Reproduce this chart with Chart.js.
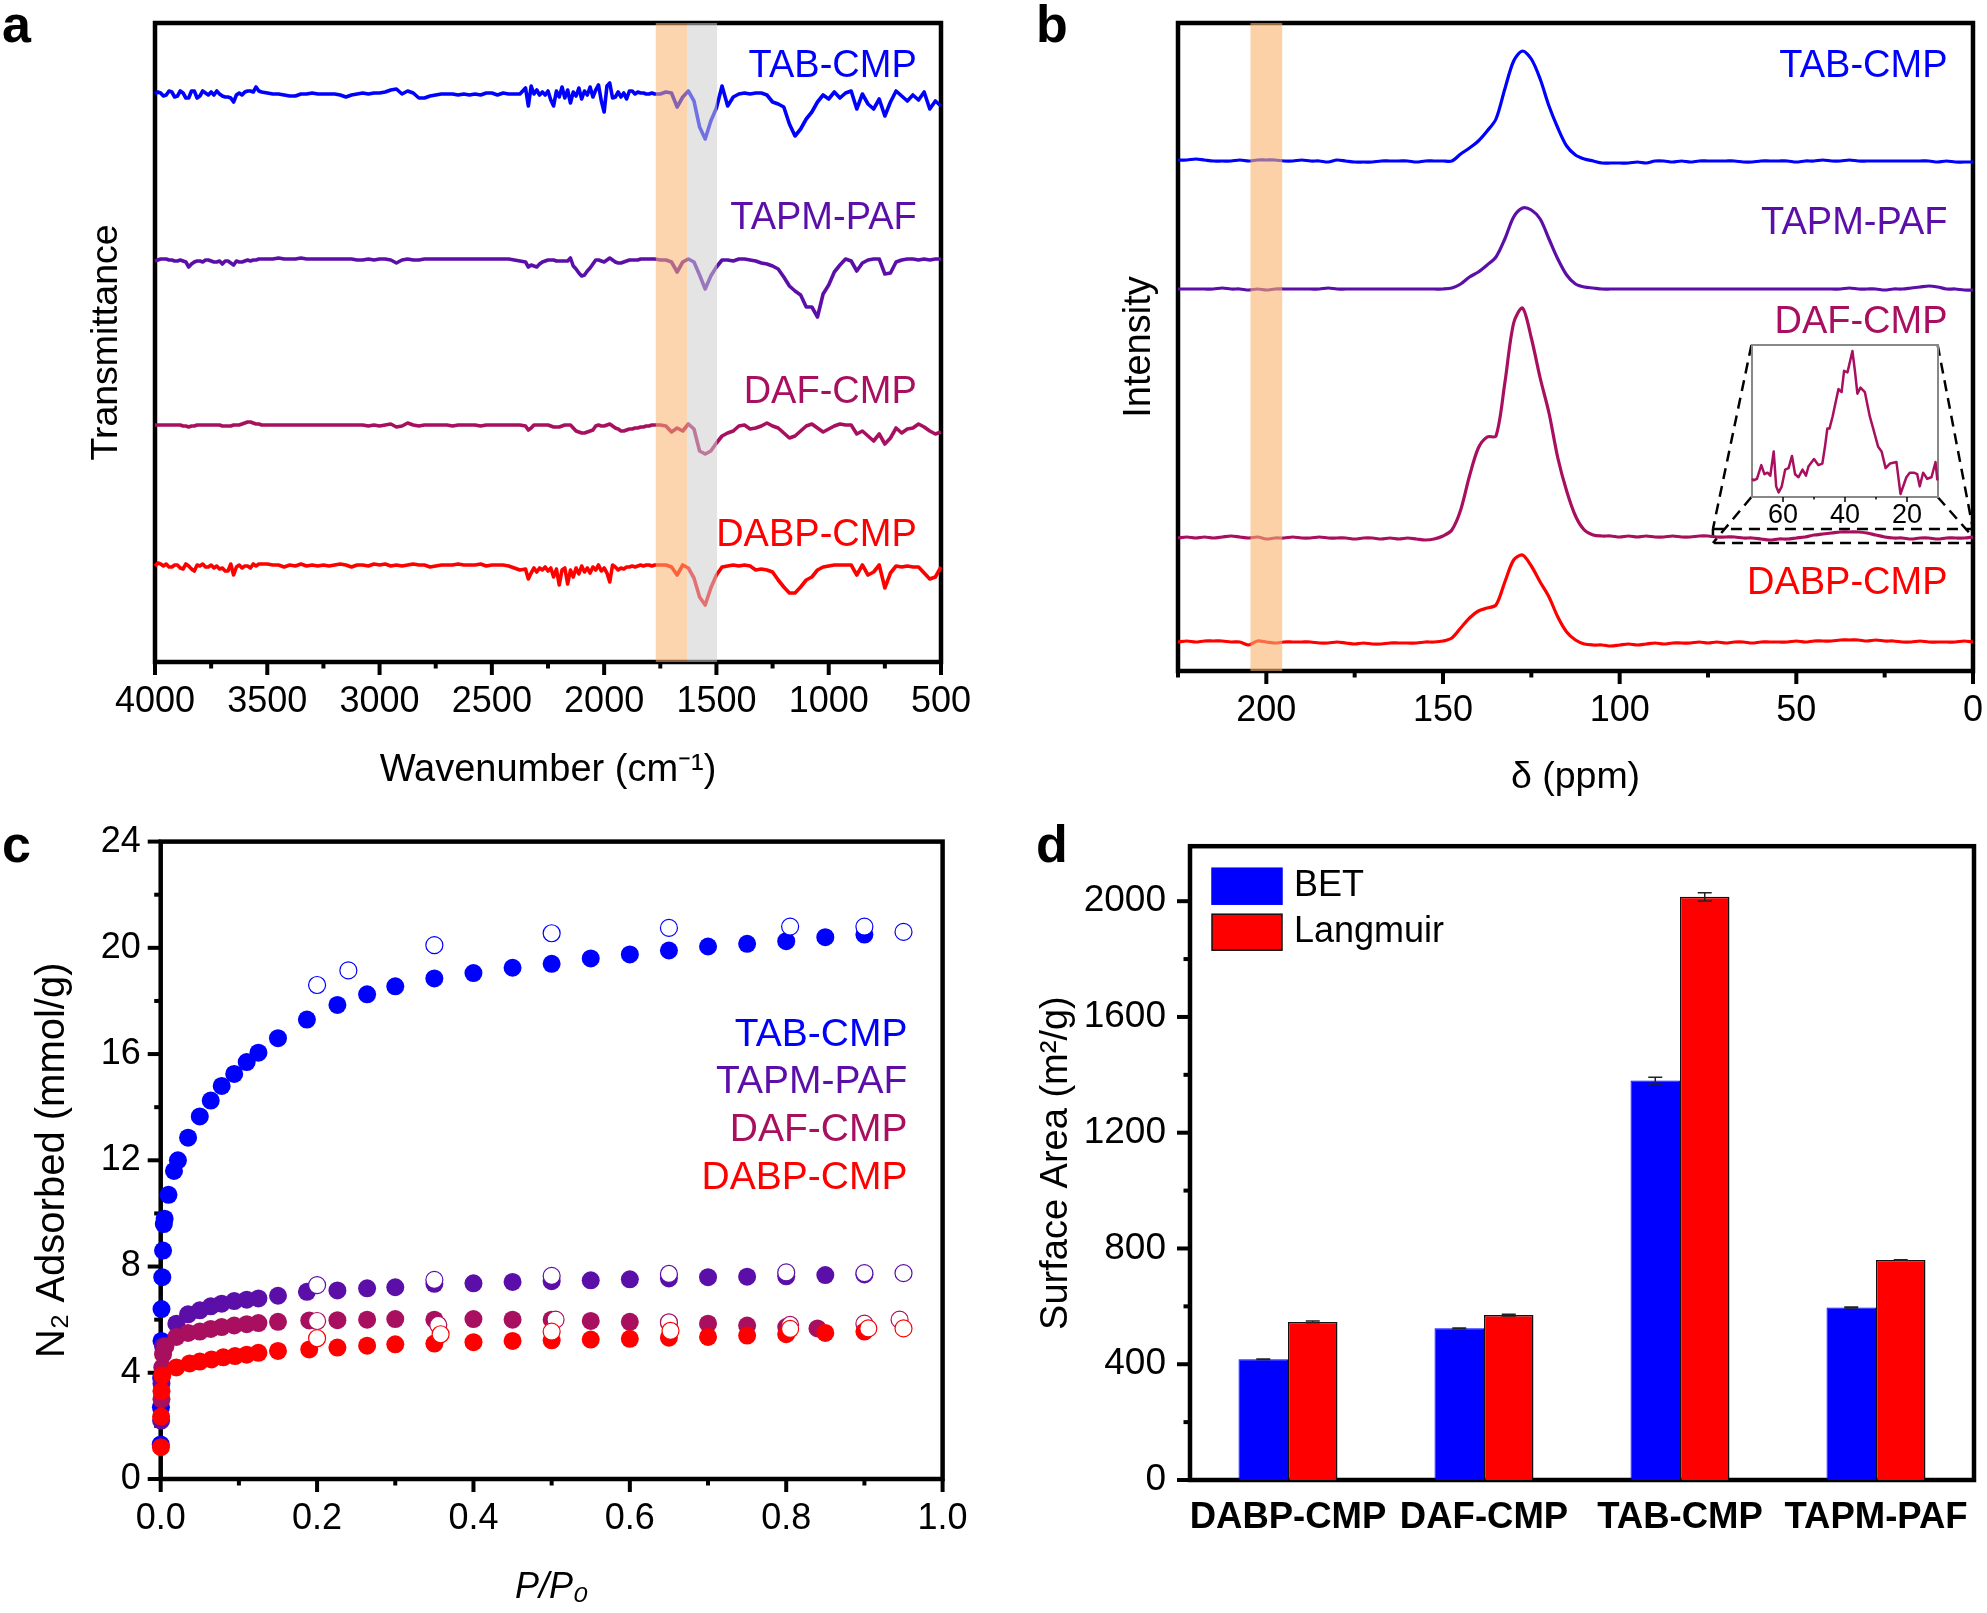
<!DOCTYPE html>
<html>
<head>
<meta charset="utf-8">
<title>CMP characterisation</title>
<script src="https://cdn.jsdelivr.net/npm/chart.js@4"></script>
<style>
    html, body { margin: 0; padding: 0; background: #fff; }
    #page { position: relative; width: 1987px; height: 1613px; overflow: hidden; }
    #page canvas { position: absolute; }
    .letter { position: absolute; font: bold 52px "Liberation Sans", sans-serif; color: #000; line-height: 52px; }
</style>
</head>
<body>
<div id="page">
    <canvas id="irChart" width="1000" height="800" style="left:0;top:0"></canvas>
    <canvas id="nmrChart" width="1001" height="800" style="left:1000px;top:0"></canvas>
    <canvas id="insetChart" width="240" height="210" style="left:1722px;top:335px"></canvas>
    <canvas id="isothermChart" width="1000" height="813" style="left:0;top:800px"></canvas>
    <canvas id="areaChart" width="987" height="813" style="left:1000px;top:800px"></canvas>
    <div class="letter" style="left:2px;top:-2px">a</div>
    <div class="letter" style="left:1036px;top:-2px">b</div>
    <div class="letter" style="left:2px;top:818px">c</div>
    <div class="letter" style="left:1036px;top:818px">d</div>
</div>
<script>
const BLUE = '#0000ff';
const PURPLE = '#5b0fa8';
const MAROON = '#a8105f';
const RED = '#ff0000';
const FONT = '"Liberation Sans", Arial, sans-serif';

const sampleNames = ['TAB-CMP', 'TAPM-PAF', 'DAF-CMP', 'DABP-CMP'];
const sampleColors = [BLUE, PURPLE, MAROON, RED];

// Panel a: FTIR, each trace is the deviation from its own baseline
const irWavenumbers = [
    4000, 3987.5, 3975, 3962.5, 3950, 3937.5, 3925, 3912.5, 3900, 3887.5,
    3875, 3862.5, 3850, 3837.5, 3825, 3812.5, 3800, 3787.5, 3775, 3762.5,
    3750, 3737.5, 3725, 3712.5, 3700, 3687.5, 3675, 3662.5, 3650, 3637.5,
    3625, 3612.5, 3600, 3587.5, 3575, 3562.5, 3550, 3537.5, 3525,
    3500, 3475, 3450, 3425, 3400, 3375, 3350, 3325, 3300, 3275,
    3250, 3225, 3200, 3175, 3150, 3125, 3100, 3075, 3050, 3025,
    3000, 2975, 2950, 2925, 2900, 2875, 2850, 2825, 2800, 2775,
    2750, 2725, 2700, 2675, 2650, 2625, 2600, 2575, 2550, 2525,
    2500, 2475, 2450, 2425, 2400, 2375,
    2350, 2337.5, 2325, 2312.5, 2300, 2287.5, 2275, 2262.5, 2250, 2237.5,
    2225, 2212.5, 2200, 2187.5, 2175, 2162.5, 2150, 2137.5, 2125, 2112.5,
    2100, 2087.5, 2075, 2062.5, 2050, 2037.5, 2025, 2012.5, 2000, 1987.5,
    1975, 1962.5, 1950, 1937.5, 1925, 1912.5, 1900, 1887.5, 1875, 1862.5,
    1850, 1837.5, 1825, 1812.5, 1800, 1787.5, 1775,
    1750, 1725, 1700, 1675, 1650, 1625, 1600, 1575, 1550, 1525,
    1500, 1475, 1450, 1425, 1400, 1375, 1350, 1325, 1300, 1275,
    1250, 1225, 1200, 1175, 1150, 1125, 1100, 1075, 1050, 1025,
    1000, 975, 950, 925, 900, 875, 850, 825, 800, 775,
    750, 725, 700, 675, 650, 625, 600, 575, 550, 525,
    500
];
const irTab = [
    0, 2, 1, -2, -1, 3, 2, -3, -2, 3,
    1, -4, -4, 3, 3, -4, -2, 3, 1, -1,
    2, -1, 3, 0, -2, -3, -3, -4, -8, -1,
    1, -1, 2, 3, 3, 2, 7, 3, 2,
    1, 0, 0, -1, -2, -2, 0, 0, 1, 0,
    0, 0, 0, -1, -3, -1, 0, 1, 0, 1,
    1, 2, 4, 5, 0, 3, 1, -4, -4, -2,
    -1, 0, 0, 0, -1, 0, -1, 0, -1, 1,
    1, -1, 1, 0, 0, 0,
    6, -12, 8, 0, 4, -1, 2, -1, 3, -6,
    -12, 3, -3, 7, -4, 4, -9, 2, -2, 6,
    -5, 3, -1, 7, -3, 4, 9, -7, -18, 8,
    11, -4, -3, 2, -3, 1, -5, 3, 3, 0,
    2, 1, 1, 0, 0, 1, 0,
    0, 2, 1, -13, -3, 3, -7, -33, -45, -27,
    -14, 8, -12, -3, 0, 1, 0, 1, 1, -1,
    -8, -10, -13, -30, -42, -35, -25, -18, -8, -1,
    -5, 2, -4, 1, 3, -15, 0, -10, -15, -5,
    -22, -8, 3, -2, -7, -1, -6, 2, -15, -7,
    -12
];
const irTapm = [
    -2, -1, 0, 0, 0, -1, -1, -2, -2, -1,
    -2, -3, -8, -5, -3, -2, -2, -3, -1, -1,
    -2, -3, -3, -2, -5, -2, -2, -4, -6, -2,
    -3, -3, -2, -1, -2, -1, -1, 0, 0,
    0, 0, 1, 0, 0, 0, 1, 0, 0, 0,
    0, 0, 0, 0, 0, 0, -1, -1, 0, -1,
    0, 0, -1, -4, -1, 0, -1, -1, 0, 0,
    0, 0, 0, 0, 0, 0, 0, 0, 0, 0,
    0, 0, 0, 0, -1, -2,
    -3, -8, -6, -7, -8, -5, -3, -2, -1, -1,
    -1, -2, -2, -2, -2, -2, 1, -7, -10, -14,
    -17, -16, -12, -9, -5, -1, -1, -2, -3, -1,
    1, -1, -3, -4, -4, -3, -2, -1, -1, -1,
    -1, 0, 0, 0, 0, 0, 0,
    -1, -1, -3, -13, -3, 0, -3, -16, -30, -17,
    -8, -1, -1, -2, 0, 0, -1, -2, -4, -5,
    -7, -10, -18, -27, -32, -36, -48, -48, -58, -35,
    -26, -13, -6, 0, -2, -12, -4, -1, 0, 0,
    -15, -14, -3, -1, 0, 0, -1, 0, -1, 0,
    0
];
const irDaf = [
    0, 0, 0, 0, 0, 0, 0, 0, 0, 0,
    -1, -1, -2, -1, -1, 0, 0, 0, 0, 0,
    0, 0, 0, 0, -1, -1, -1, -1, 0, 0,
    0, 1, 2, 3, 3, 2, 1, 1, 0,
    0, 0, 0, 0, 0, 0, 0, 0, 0, 0,
    0, 0, 0, 0, 0, 0, 0, 0, -1, 0,
    -1, 0, 1, -2, -1, 2, 0, -1, 0, 0,
    0, 0, 0, -1, 0, 0, 0, 0, -1, 0,
    0, 0, 0, 0, 0, 0,
    -1, -5, -3, 0, 0, 0, 0, 0, 0, -1,
    -2, -2, -2, -1, 0, 0, 0, -3, -6, -7,
    -8, -8, -7, -6, -5, -1, 0, -1, -1, 0,
    1, -1, -3, -4, -6, -6, -5, -4, -4, -3,
    -3, -2, -2, -1, -1, 0, 0,
    0, -1, -7, -3, -6, 1, -4, -26, -29, -26,
    -18, -11, -8, -6, -1, 0, -4, -3, -1, 2,
    -1, -3, -8, -13, -11, -6, -1, 1, -3, -7,
    -4, -1, 1, 0, 0, -9, -6, -11, -16, -9,
    -19, -13, -3, -8, -4, -3, 1, -2, -6, -9,
    -7
];
const irDabp = [
    -1, 2, 1, -1, 1, -2, -2, 0, 0, -3,
    -4, 1, -1, -4, -6, 0, -1, 1, -2, -2,
    0, -3, -1, -4, -3, -6, -6, 1, -10, -2,
    0, -3, -1, -1, -3, 1, -1, 1, 1,
    1, 0, 0, -2, 0, -1, 1, -1, 0, -1,
    0, -1, 0, 1, 0, -2, 0, 0, -1, 1,
    0, 1, -1, 0, -1, 0, 1, 0, 0, -2,
    -1, 0, 0, 0, 1, 0, 0, 0, 1, -1,
    0, 0, 0, -1, -3, -5,
    -4, -14, -8, -3, -7, -3, -5, -2, -6, -3,
    -12, -4, -20, -5, -3, -19, -5, -12, -3, -9,
    -1, -7, -3, -8, -2, -5, 0, -6, -3, -8,
    -17, 0, -2, -5, -3, -4, -2, -2, -1, -2,
    -1, 0, -1, 0, 0, -1, 0,
    0, 0, -2, -10, 0, -3, -13, -32, -40, -23,
    -10, -2, -1, 0, -1, 0, -1, -5, -4, -5,
    -7, -15, -22, -28, -28, -22, -15, -12, -5, -2,
    -1, 0, 0, 0, 0, -10, 0, -10, -7, 0,
    -23, -8, -1, -2, -1, -2, -2, -8, -14, -12,
    -2
];
const irBaselines = [568, 403, 237, 97];
const irLabelHeights = [595, 443, 269, 126];
const irBands = [[1770, 1631, 'rgba(250,178,110,0.55)'], [1631, 1497, 'rgba(205,205,205,0.55)']];

// Panel b: solid state NMR
const nmrShifts = [
    225, 222.5, 220, 217.5, 215, 212.5, 210, 207.5, 205, 202.5,
    200, 197.5, 195, 192.5, 190, 187.5, 185, 182.5, 180, 177.5,
    175, 172.5, 170, 167.5, 165, 162.5, 160, 157.5, 155, 152.5,
    150, 147.5, 145, 142.5, 140, 137.5, 135, 132.5, 130, 127.5,
    125, 122.5, 120, 117.5, 115, 112.5, 110, 107.5, 105, 102.5,
    100, 97.5, 95, 92.5, 90, 87.5, 85, 82.5, 80, 77.5,
    75, 72.5, 70, 67.5, 65, 62.5, 60, 57.5, 55, 52.5,
    50, 47.5, 45, 42.5, 40, 37.5, 35, 32.5, 30, 27.5,
    25, 22.5, 20, 17.5, 15, 12.5, 10, 7.5, 5, 2.5,
    0
];
const nmrTab = [
    1, 1, 2, 1, 0, 0, 0, 1, 0, 1,
    1, 1, 0, 0, 1, 0, 0, -1, 1, 0,
    -1, -1, -1, 0, 0, 0, 0, -1, 0, 0,
    0, 0, 7, 13, 20, 30, 42, 72, 100, 110,
    102, 82, 55, 33, 15, 6, 2, 0, -2, -2,
    -2, -2, -1, -2, 0, 0, -1, 0, -1, 0,
    0, 0, 0, 0, -1, -1, 0, 0, 0, 0,
    -1, 0, 0, 1, 0, 0, 1, 0, 0, 0,
    0, 0, 0, 0, 0, 0, -1, 0, -1, -1,
    -1
];
const nmrTapm = [
    0, 0, 0, 0, 0, 1, 0, 0, -1, 0,
    -1, 0, 0, 0, 0, 0, 0, 1, 0, 0,
    0, 0, 0, 0, 0, 0, 0, 0, 0, 0,
    0, 1, 5, 12, 17, 24, 32, 50, 72, 81,
    79, 70, 50, 30, 14, 5, 2, 1, 0, 0,
    0, 0, 0, 0, 0, 0, 0, 0, 0, 0,
    0, 0, 0, 0, 0, 0, 0, 0, 0, 0,
    0, 0, 0, 0, 0, 0, 1, 0, 0, 0,
    -1, 0, 0, 1, 2, 3, 2, 0, 0, -1,
    -1
];
const nmrDaf = [
    0, 1, 0, 1, 0, 1, 2, 1, 0, 1,
    -1, 0, 0, 1, 0, 0, 1, 0, 0, 0,
    -1, 0, 0, -1, 0, -1, 0, -1, -2, -1,
    2, 8, 28, 62, 90, 101, 102, 155, 215, 230,
    200, 160, 125, 80, 47, 22, 8, 3, 2, 2,
    1, 2, 1, 2, 1, 1, 2, 1, 1, 2,
    2, 1, 1, 1, 0, 0, -1, -2, -1, -1,
    0, 1, 3, 4, 5, 6, 6, 6, 5, 3,
    1, 0, 0, -1, 0, 0, -1, 0, 0, 0,
    1
];
const nmrDabp = [
    0, 1, 0, 1, 1, 1, 0, 0, -3, 1,
    0, -1, 0, 0, 0, 0, -1, -1, 0, -1,
    -2, -1, -2, -2, -1, -1, -1, -1, 0, 0,
    1, 4, 14, 24, 31, 34, 37, 60, 82, 87,
    76, 60, 45, 25, 10, 2, -2, -3, -3, -4,
    -3, -2, -3, -2, -1, -2, -1, -1, -1, 0,
    -1, 0, -1, 0, 0, -1, 0, 0, 0, 0,
    1, 0, 1, 1, 1, 2, 2, 2, 1, 2,
    1, 1, 0, 0, 1, 0, 0, 0, 0, 1,
    0
];
const nmrBaselines = [510, 382, 133, 29];
const nmrLabelHeights = [604, 447, 348, 87];
const nmrBands = [[204.5, 195.5, 'rgba(250,178,110,0.6)']];

// zoom guide for the inset, in the axis units of panel b
const guideBoxX = [73.6, 0, 0, 73.6, 73.6];
const guideBoxY = [142, 142, 128, 128, 142];
const guideLines = [
    [[62.7, 326], [73.6, 142]],
    [[10, 326], [0, 142]],
    [[62.7, 174], [73.6, 128]],
    [[10, 174], [0, 134]]
];

// Inset of panel b: DAF-CMP between 70 and 10 ppm
const insetShifts = [
    70, 69.5, 68.4, 67, 66, 65, 64.1, 63, 62.2, 61.4,
    60.4, 59.3, 58.2, 57.1, 56.1, 55, 53.7, 52.6, 51.8, 50,
    48.6, 47.3, 46.4, 45.7, 45, 44, 42.1, 41.1, 40.3, 39.2,
    37.6, 36.8, 36, 35, 33.6, 32, 30.9, 29.3, 28.2, 26.9,
    25.5, 23.4, 22.1, 20.2, 19.1, 17.8, 16.7, 15.9, 14.8, 13.5,
    12.1, 10.8, 10.2
];
const insetDaf = [
    12, 11, 12, 21, 15, 16, 14, 30, 7, 3,
    7, 18, 19, 27, 15, 13, 18, 14, 20, 25,
    21, 22, 34, 45, 45, 53, 71, 69, 83, 82,
    96, 83, 68, 72, 69, 53, 45, 33, 30, 19,
    22, 23, 2, 13, 16, 16, 15, 7, 16, 12,
    13, 23, 11
];

// Panel c: N2 isotherms, adsorption and desorption branches
const tabAdsP = [0, 0.0003, 0.0006, 0.001, 0.001, 0.002, 0.003, 0.004, 0.005, 0.01, 0.017, 0.022, 0.035, 0.05, 0.064, 0.078, 0.094, 0.11, 0.125, 0.15, 0.187, 0.226, 0.264, 0.3, 0.35, 0.4, 0.45, 0.5, 0.55, 0.6, 0.65, 0.7, 0.75, 0.8, 0.85, 0.9];
const tabAds = [1.3, 2.7, 3.8, 5.2, 6.4, 7.6, 8.6, 9.6, 9.8, 10.7, 11.6, 12, 12.85, 13.65, 14.25, 14.8, 15.25, 15.7, 16.05, 16.6, 17.3, 17.85, 18.25, 18.55, 18.85, 19.05, 19.25, 19.4, 19.6, 19.75, 19.9, 20.05, 20.15, 20.25, 20.4, 20.5];
const tabDesP = [0.2, 0.24, 0.35, 0.5, 0.65, 0.805, 0.9, 0.95];
const tabDes = [18.6, 19.15, 20.1, 20.55, 20.75, 20.8, 20.8, 20.6];
const tapmAdsP = [0.0005, 0.001, 0.003, 0.02, 0.035, 0.05, 0.064, 0.078, 0.094, 0.11, 0.125, 0.15, 0.187, 0.226, 0.264, 0.3, 0.35, 0.4, 0.45, 0.5, 0.55, 0.6, 0.65, 0.7, 0.75, 0.8, 0.85, 0.9];
const tapmAds = [2.2, 3.6, 5, 5.85, 6.2, 6.35, 6.5, 6.6, 6.7, 6.75, 6.8, 6.9, 7.05, 7.1, 7.18, 7.22, 7.35, 7.37, 7.42, 7.45, 7.48, 7.52, 7.55, 7.6, 7.62, 7.63, 7.68, 7.7];
const tapmDesP = [0.2, 0.35, 0.5, 0.65, 0.8, 0.9, 0.95];
const tapmDes = [7.3, 7.5, 7.65, 7.72, 7.78, 7.75, 7.75];
const dafAdsP = [0.001, 0.002, 0.003, 0.006, 0.02, 0.035, 0.05, 0.064, 0.078, 0.094, 0.11, 0.125, 0.15, 0.19, 0.226, 0.264, 0.3, 0.35, 0.4, 0.45, 0.5, 0.55, 0.6, 0.65, 0.7, 0.75, 0.8, 0.84];
const dafAds = [3, 4.2, 4.7, 5, 5.35, 5.5, 5.55, 5.65, 5.72, 5.78, 5.83, 5.87, 5.92, 5.97, 5.98, 6, 6.02, 6, 6.02, 6, 6, 5.95, 5.92, 5.88, 5.85, 5.78, 5.72, 5.67];
const dafDesP = [0.2, 0.355, 0.505, 0.65, 0.805, 0.9, 0.945];
const dafDes = [5.95, 5.8, 6, 5.9, 5.8, 5.85, 6];
const dabpAdsP = [0.0003, 0.0005, 0.001, 0.002, 0.02, 0.037, 0.05, 0.065, 0.08, 0.095, 0.11, 0.125, 0.15, 0.19, 0.226, 0.264, 0.3, 0.35, 0.4, 0.45, 0.5, 0.55, 0.6, 0.65, 0.7, 0.75, 0.8, 0.85, 0.9];
const dabpAds = [1.2, 2.35, 3.3, 3.9, 4.2, 4.35, 4.42, 4.5, 4.58, 4.63, 4.68, 4.75, 4.82, 4.88, 4.95, 5.02, 5.07, 5.1, 5.15, 5.2, 5.22, 5.25, 5.28, 5.32, 5.35, 5.4, 5.45, 5.5, 5.55];
const dabpDesP = [0.2, 0.358, 0.5, 0.652, 0.805, 0.905, 0.95];
const dabpDes = [5.3, 5.45, 5.55, 5.58, 5.65, 5.67, 5.67];
const isothermLabelHeights = [16.72, 14.92, 13.12, 11.32];

// Panel d: surface areas
const areaCategories = ['DABP-CMP', 'DAF-CMP', 'TAB-CMP', 'TAPM-PAF'];
const betValues = [417, 524, 1380, 596];
const langmuirValues = [546, 570, 2015, 760];
const betErrors = [1, 1, 12, 2];
const langmuirErrors = [3, 3, 14, 1];

function toPoints(xs, ys, offset) {
    return xs.map((x, i) => ({ x: x, y: ys[i] + (offset || 0) }));
}

function traceDataset(xs, ys, offset, color, width, tension) {
    return {
        data: toPoints(xs, ys, offset),
        borderColor: color,
        borderWidth: width || 3.6,
        pointRadius: 0,
        tension: tension || 0,
        borderJoinStyle: 'round',
        clip: false
    };
}

function tickList(from, to, step) {
    const list = [];
    for (let v = from; v <= to + 1e-9; v += step) list.push(v);
    return list;
}

// Frame, outward ticks, shaded bands, series names, error bars and the legend of d
const panelDecor = {
    id: 'panelDecor',
    beforeDatasetsDraw(chart, args, opts) {
        const { ctx, chartArea: a, scales } = chart;
        ctx.save();
        ctx.strokeStyle = opts.frameColor || '#000';
        ctx.lineWidth = opts.frameWidth || 4.5;
        ctx.strokeRect(a.left, a.top, a.right - a.left, a.bottom - a.top);
        ctx.strokeStyle = '#000';
        const drawX = (list, len, w) => {
            ctx.lineWidth = w;
            (list || []).forEach(v => {
                const p = scales.x.getPixelForValue(v);
                ctx.beginPath(); ctx.moveTo(p, a.bottom); ctx.lineTo(p, a.bottom + len); ctx.stroke();
            });
        };
        const drawY = (list, len, w) => {
            ctx.lineWidth = w;
            (list || []).forEach(v => {
                const p = scales.y.getPixelForValue(v);
                ctx.beginPath(); ctx.moveTo(a.left, p); ctx.lineTo(a.left - len, p); ctx.stroke();
            });
        };
        const big = opts.tickLen || 13;
        drawX(opts.xMajor, big, opts.tickWidth || 4);
        drawX(opts.xMinor, big / 2, opts.tickWidth || 4);
        drawY(opts.yMajor, big, opts.tickWidth || 4);
        drawY(opts.yMinor, big / 2, opts.tickWidth || 4);
        ctx.restore();
    },
    afterDatasetsDraw(chart, args, opts) {
        const { ctx, chartArea: a, scales } = chart;
        ctx.save();
        (opts.bands || []).forEach(b => {
            const x0 = scales.x.getPixelForValue(b[0]);
            const x1 = scales.x.getPixelForValue(b[1]);
            ctx.fillStyle = b[2];
            ctx.fillRect(x0, a.top, x1 - x0, a.bottom - a.top);
        });
        (opts.errors || []).forEach((errs, ds) => {
            const bars = chart.getDatasetMeta(ds).data;
            const vals = chart.data.datasets[ds].data;
            ctx.strokeStyle = '#222';
            ctx.lineWidth = 1.5;
            errs.forEach((e, i) => {
                const hi = scales.y.getPixelForValue(vals[i] + e);
                const lo = scales.y.getPixelForValue(vals[i] - e);
                const x = bars[i].x;
                ctx.beginPath();
                ctx.moveTo(x, hi); ctx.lineTo(x, lo);
                ctx.moveTo(x - 7, hi); ctx.lineTo(x + 7, hi);
                ctx.moveTo(x - 7, lo); ctx.lineTo(x + 7, lo);
                ctx.stroke();
            });
        });
        if (opts.labelHeights) {
            ctx.font = (opts.labelSize || 38) + 'px ' + FONT;
            ctx.textAlign = 'right';
            ctx.textBaseline = 'middle';
            sampleNames.forEach((name, i) => {
                ctx.fillStyle = sampleColors[i];
                ctx.fillText(name, scales.x.getPixelForValue(opts.labelX), scales.y.getPixelForValue(opts.labelHeights[i]));
            });
        }
        if (opts.showLegend) {
            ctx.font = '36px ' + FONT;
            ctx.textAlign = 'left';
            ctx.textBaseline = 'middle';
            chart.data.datasets.forEach((d, i) => {
                const top = a.top + 22 + i * 46;
                ctx.fillStyle = d.backgroundColor;
                ctx.fillRect(a.left + 22, top, 70, 36);
                ctx.strokeStyle = d.borderColor;
                ctx.lineWidth = 1.5;
                ctx.strokeRect(a.left + 22, top, 70, 36);
                ctx.fillStyle = '#000';
                ctx.fillText(d.label, a.left + 104, top + 18);
            });
        }
        ctx.restore();
    }
};
Chart.register(panelDecor);

function hiddenGrid() {
    return { display: false, drawTicks: false };
}

function baseOptions(pad) {
    return {
        responsive: false,
        animation: false,
        devicePixelRatio: 1,
        layout: { padding: { left: 0, top: pad.top, right: pad.right, bottom: 0 } },
        plugins: { legend: { display: false }, tooltip: { enabled: false } }
    };
}

function axisTitle(text, size, padding, style) {
    return {
        display: true,
        text: text,
        color: '#000',
        padding: padding,
        font: { family: FONT, size: size, style: style || 'normal' }
    };
}

function initIrChart() {
    const options = baseOptions({ top: 23, right: 59 });
    options.plugins.panelDecor = {
        bands: irBands, labelX: 608, labelHeights: irLabelHeights,
        xMajor: tickList(500, 4000, 500), xMinor: tickList(750, 3750, 500)
    };
    options.scales = {
        x: {
            type: 'linear', reverse: true, min: 500, max: 4000,
            grid: hiddenGrid(), border: { display: false },
            ticks: { stepSize: 500, padding: 18, color: '#000', maxRotation: 0, font: { family: FONT, size: 36 }, callback: v => v },
            title: axisTitle('Wavenumber (cm⁻¹)', 38, { top: 0, bottom: 7 }),
            afterFit: s => { s.height = 138; }
        },
        y: {
            min: 0, max: 639,
            grid: hiddenGrid(), border: { display: false },
            ticks: { display: false },
            title: axisTitle('Transmittance', 37.5, { top: 84, bottom: 0 }),
            afterFit: s => { s.width = 155; }
        }
    };
    const series = [irTab, irTapm, irDaf, irDabp];
    new Chart(document.getElementById('irChart'), {
        type: 'line',
        data: { datasets: series.map((s, i) => traceDataset(irWavenumbers, s, irBaselines[i], sampleColors[i])) },
        options: options
    });
}

function initNmrChart() {
    const options = baseOptions({ top: 23, right: 14 });
    options.plugins.panelDecor = {
        bands: nmrBands, labelX: 7.2, labelHeights: nmrLabelHeights,
        xMajor: tickList(0, 200, 50), xMinor: tickList(25, 225, 50)
    };
    options.scales = {
        x: {
            type: 'linear', reverse: true, min: 0, max: 225,
            grid: hiddenGrid(), border: { display: false },
            ticks: { stepSize: 50, padding: 18, color: '#000', maxRotation: 0, font: { family: FONT, size: 36 }, callback: v => v },
            afterBuildTicks: s => { s.ticks = [200, 150, 100, 50, 0].map(v => ({ value: v })); },
            title: axisTitle('δ (ppm)', 37.5, { top: 0, bottom: 0 }),
            afterFit: s => { s.height = 129; }
        },
        y: {
            min: 0, max: 648,
            grid: hiddenGrid(), border: { display: false },
            ticks: { display: false },
            title: axisTitle('Intensity', 38, { top: 117, bottom: 0 }),
            afterFit: s => { s.width = 178; }
        }
    };
    const series = [nmrTab, nmrTapm, nmrDaf, nmrDabp];
    const datasets = series.map((s, i) => traceDataset(nmrShifts, s, nmrBaselines[i], sampleColors[i], 3.2, 0.3));
    const guide = points => ({
        data: points, borderColor: '#000', borderWidth: 2.5, borderDash: [11, 7],
        pointRadius: 0, tension: 0, clip: false
    });
    datasets.push(guide(toPoints(guideBoxX, guideBoxY)));
    guideLines.forEach(l => datasets.push(guide(l.map(p => ({ x: p[0], y: p[1] })))));
    new Chart(document.getElementById('nmrChart'), {
        type: 'line',
        data: { datasets: datasets },
        options: options
    });
}

function initInsetChart() {
    const options = baseOptions({ top: 10, right: 24 });
    options.plugins.panelDecor = {
        frameColor: '#888', frameWidth: 2, tickLen: 5, tickWidth: 1.5,
        xMajor: [20, 40, 60], xMinor: [30, 50]
    };
    options.scales = {
        x: {
            type: 'linear', reverse: true, min: 10, max: 70,
            grid: hiddenGrid(), border: { display: false },
            ticks: { stepSize: 20, padding: 2, color: '#000', maxRotation: 0, font: { family: FONT, size: 27 }, callback: v => v },
            afterBuildTicks: s => { s.ticks = [60, 40, 20].map(v => ({ value: v })); },
            afterFit: s => { s.height = 48; }
        },
        y: {
            min: 0, max: 100,
            grid: hiddenGrid(), border: { display: false },
            ticks: { display: false },
            afterFit: s => { s.width = 30; }
        }
    };
    new Chart(document.getElementById('insetChart'), {
        type: 'line',
        data: { datasets: [traceDataset(insetShifts, insetDaf, 0, MAROON, 2.5)] },
        options: options
    });
}

function initIsothermChart() {
    const options = baseOptions({ top: 41.5, right: 57.4 });
    options.plugins.panelDecor = {
        labelX: 0.955, labelHeights: isothermLabelHeights, labelSize: 39,
        xMajor: tickList(0, 1, 0.2), xMinor: tickList(0.1, 0.9, 0.2),
        yMajor: tickList(0, 24, 4), yMinor: tickList(2, 22, 4)
    };
    options.scales = {
        x: {
            type: 'linear', min: 0, max: 1,
            grid: hiddenGrid(), border: { display: false },
            ticks: { stepSize: 0.2, padding: 18, color: '#000', maxRotation: 0, font: { family: FONT, size: 36 }, callback: v => v.toFixed(1) },
            title: axisTitle('P/P₀', 36, { top: 0, bottom: 3 }, 'italic'),
            afterFit: s => { s.height = 134; }
        },
        y: {
            min: 0, max: 24,
            grid: hiddenGrid(), border: { display: false },
            ticks: { stepSize: 4, padding: 20, color: '#000', font: { family: FONT, size: 36 } },
            title: axisTitle('N₂ Adsorbed (mmol/g)', 40, { top: 29, bottom: 0 }),
            afterFit: s => { s.width = 160.7; }
        }
    };
    const filled = (xs, ys, color) => ({
        data: toPoints(xs, ys), backgroundColor: color, borderColor: color,
        pointRadius: 9, pointBorderWidth: 0, clip: false
    });
    const open = (xs, ys, color) => ({
        data: toPoints(xs, ys), backgroundColor: '#fff', borderColor: color,
        pointRadius: 8.5, pointBorderWidth: 1.2, clip: false
    });
    new Chart(document.getElementById('isothermChart'), {
        type: 'scatter',
        data: {
            datasets: [
                filled(tabAdsP, tabAds, BLUE), open(tabDesP, tabDes, BLUE),
                filled(tapmAdsP, tapmAds, PURPLE), open(tapmDesP, tapmDes, PURPLE),
                filled(dafAdsP, dafAds, MAROON), open(dafDesP, dafDes, MAROON),
                filled(dabpAdsP, dabpAds, RED), open(dabpDesP, dabpDes, RED)
            ].map((d, i) => Object.assign(d, { order: 8 - i }))
        },
        options: options
    });
}

function initAreaChart() {
    const options = baseOptions({ top: 41.5, right: 13 });
    options.plugins.panelDecor = {
        showLegend: true,
        errors: [betErrors, langmuirErrors],
        yMajor: tickList(0, 2000, 400), yMinor: tickList(200, 1800, 400)
    };
    options.scales = {
        x: {
            grid: hiddenGrid(), border: { display: false },
            ticks: { padding: 16, color: '#000', autoSkip: false, maxRotation: 0, font: { family: FONT, size: 36.5, weight: 'bold' } },
            afterFit: s => { s.height = 133; }
        },
        y: {
            min: 0, max: 2190,
            grid: hiddenGrid(), border: { display: false },
            ticks: { stepSize: 400, padding: 24, color: '#000', font: { family: FONT, size: 37 }, callback: v => v },
            afterBuildTicks: s => { s.ticks = [0, 400, 800, 1200, 1600, 2000].map(v => ({ value: v })); },
            title: axisTitle('Surface Area (m²/g)', 38, { top: 34, bottom: 0 }),
            afterFit: s => { s.width = 190; }
        }
    };
    new Chart(document.getElementById('areaChart'), {
        type: 'bar',
        data: {
            labels: areaCategories,
            datasets: [
                { label: 'BET', data: betValues, backgroundColor: BLUE, borderColor: BLUE, borderWidth: 1, barPercentage: 1, categoryPercentage: 0.505 },
                { label: 'Langmuir', data: langmuirValues, backgroundColor: RED, borderColor: '#111', borderWidth: 1.5, barPercentage: 1, categoryPercentage: 0.505 }
            ]
        },
        options: options
    });
}

initIrChart();
initNmrChart();
initInsetChart();
initIsothermChart();
initAreaChart();
</script>
</body>
</html>
